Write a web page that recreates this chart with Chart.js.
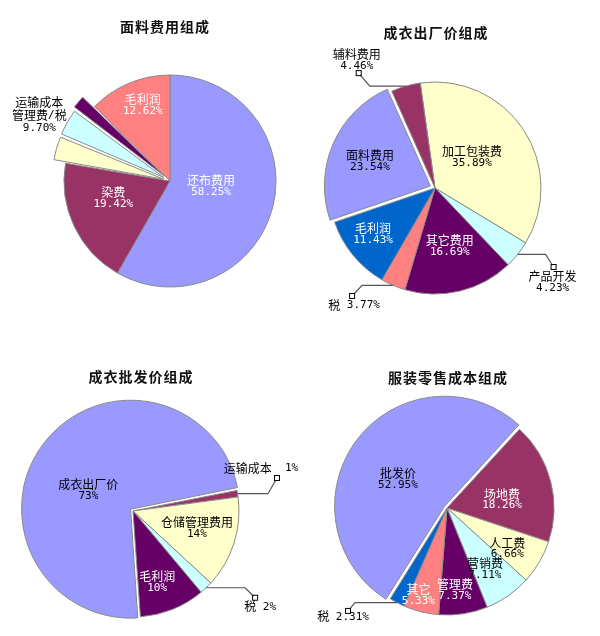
<!DOCTYPE html>
<html lang="zh">
<head>
<meta charset="UTF-8">
<title>服装成本组成</title>
<script src="https://cdn.jsdelivr.net/npm/chart.js"></script>
<style>
  body { margin: 0; background: #fff; }
  .grid {
    display: grid;
    grid-template-columns: 300px 300px;
    grid-template-rows: 318px 318px;
    width: 600px;
    height: 636px;
  }
  canvas { display: block; }
</style>
</head>
<body>
<div class="grid">
  <canvas id="c1" width="300" height="318"></canvas>
  <canvas id="c2" width="300" height="318"></canvas>
  <canvas id="c3" width="300" height="318"></canvas>
  <canvas id="c4" width="300" height="318"></canvas>
</div>
<script>
  // 面料费用组成 (运输成本/管理费/税 together 9.70%)
  const fabricLabels = ['还布费用', '染费', '运输成本', '管理费', '税', '毛利润'];
  const fabricValues = [58.25, 19.42, 3.6, 4.0, 2.1, 12.62];

  // 成衣出厂价组成
  const factoryLabels = ['加工包装费', '产品开发', '其它费用', '税', '毛利润', '面料费用', '辅料费用'];
  const factoryValues = [35.89, 4.23, 16.69, 3.77, 11.43, 23.54, 4.46];

  // 成衣批发价组成
  const wholesaleLabels = ['成衣出厂价', '运输成本', '仓储管理费用', '税', '毛利润'];
  const wholesaleValues = [73, 1, 14, 2, 10];

  // 服装零售成本组成
  const retailLabels = ['批发价', '场地费', '人工费', '营销费', '管理费', '其它', '税'];
  const retailValues = [52.95, 18.26, 6.66, 7.11, 7.37, 5.33, 2.31];

  const LAV = '#9999FF', PLUM = '#993366', CREAM = '#FFFFCC', AQUA = '#CCFFFF',
        GRAPE = '#660066', SALMON = '#FF8080', OCEAN = '#0066CC';

  const FONT_CJK = '"Noto Sans CJK SC", sans-serif';
  const FONT_NUM = '"DejaVu Sans Mono", monospace';
  const LINE_H = 11.5;

  function pct(v, d) { return v.toFixed(d) + '%'; }

  // one line of text, CJK runs and latin runs in different fonts
  function drawLine(ctx, text, cx, cy) {
    const runs = [];
    for (const ch of text) {
      const cjk = ch.charCodeAt(0) > 255;
      const last = runs[runs.length - 1];
      if (last && last.cjk === cjk) last.t += ch;
      else runs.push({ t: ch, cjk });
    }
    let total = 0;
    runs.forEach(r => {
      ctx.font = r.cjk ? '12px ' + FONT_CJK : '11px ' + FONT_NUM;
      r.w = ctx.measureText(r.t).width;
      total += r.w;
    });
    let x = cx - total / 2;
    ctx.textAlign = 'left';
    ctx.textBaseline = 'middle';
    runs.forEach(r => {
      ctx.font = r.cjk ? '12px ' + FONT_CJK : '11px ' + FONT_NUM;
      ctx.fillText(r.t, x, cy);
      x += r.w;
    });
  }

  function drawBlock(ctx, lines, cx, cy, color) {
    ctx.fillStyle = color;
    const top = cy - (lines.length - 1) * LINE_H / 2;
    lines.forEach((t, i) => drawLine(ctx, t, cx, top + i * LINE_H));
  }

  const sliceLabels = {
    id: 'sliceLabels',
    afterDatasetsDraw(chart, args, opts) {
      const cfg = opts.cfg;
      const ctx = chart.ctx;
      const meta = chart.getDatasetMeta(0);
      const values = chart.data.datasets[0].data;
      const names = chart.data.labels;

      // same shift the arc element applies for its offset
      const geo = i => {
        const a = meta.data[i];
        const p = a.getProps(['x', 'y', 'startAngle', 'endAngle', 'outerRadius']);
        const mid = (p.startAngle + p.endAngle) / 2;
        const off = (a.options.offset || 0) / 4;
        const fix = 1 - Math.sin(Math.min(Math.PI, p.endAngle - p.startAngle));
        const t = off * (1 + fix);
        return { cx: p.x + Math.cos(mid) * t, cy: p.y + Math.sin(mid) * t, r: p.outerRadius, mid };
      };

      ctx.save();
      cfg.tags.forEach((tag, i) => {
        if (!tag) return;
        const g = geo(i);
        const txt = pct(values[i], cfg.decimals);
        if (tag.frac) {
          const ang = g.mid + tag.turn * Math.PI / 180;
          const x = g.cx + Math.cos(ang) * g.r * tag.frac;
          const y = g.cy + Math.sin(ang) * g.r * tag.frac;
          drawBlock(ctx, [names[i], txt], x, y, tag.color);
        } else if (tag.lead) {
          const ex = g.cx + Math.cos(g.mid) * g.r;
          const ey = g.cy + Math.sin(g.mid) * g.r;
          const mx = ex + tag.lead[0], my = ey + tag.lead[1];
          ctx.strokeStyle = '#555';
          ctx.lineWidth = 1.2;
          ctx.beginPath();
          ctx.moveTo(ex, ey);
          ctx.lineTo(mx + tag.lead[2], ey);
          ctx.lineTo(mx, my);
          ctx.stroke();
          ctx.fillStyle = '#fff';
          ctx.fillRect(mx - 2, my - 2, 4, 4);
          ctx.strokeStyle = '#000';
          ctx.lineWidth = 1;
          ctx.strokeRect(mx - 2.5, my - 2.5, 5, 5);
          const lines = tag.one !== undefined ? [names[i] + tag.one + txt] : [names[i], txt];
          drawBlock(ctx, lines, mx + tag.text[0], my + tag.text[1], '#000');
        }
      });

      if (cfg.group) {
        const gr = cfg.group;
        const g = geo(gr.via);
        const sum = gr.idx.reduce((s, k) => s + values[k], 0);
        const ang = g.mid + gr.turn * Math.PI / 180;
        const x = g.cx + Math.cos(ang) * g.r * gr.frac;
        const y = g.cy + Math.sin(ang) * g.r * gr.frac;
        const lines = [names[gr.idx[0]], gr.idx.slice(1).map(k => names[k]).join('/'), pct(sum, cfg.decimals)];
        ctx.fillStyle = '#000';
        const top = y - LINE_H * 1.1;
        lines.forEach((t, k) => drawLine(ctx, t, x, top + k * LINE_H * 1.1));
      }

      ctx.font = 'bold 14px ' + FONT_CJK;
      ctx.letterSpacing = '1px';
      ctx.fillStyle = '#111';
      ctx.textAlign = 'center';
      ctx.textBaseline = 'middle';
      ctx.fillText(cfg.title, cfg.titleX, cfg.titleY);
      ctx.restore();
    }
  };

  const charts = [
    {
      id: 'c1', title: '面料费用组成', titleX: 165, titleY: 27,
      labels: fabricLabels, values: fabricValues, decimals: 2,
      colors: [LAV, PLUM, CREAM, AQUA, GRAPE, SALMON],
      offsets: [0, 0, 27, 28, 32, 0],
      rotation: 0, radius: 106, padding: { left: 50, right: 10, top: 54, bottom: 10 },
      tags: [
        { frac: 0.39, turn: -8, color: '#fff' },
        { frac: 0.56, turn: 8, color: '#fff' },
        null, null, null,
        { frac: 0.76, turn: 3, color: '#fff' }
      ],
      group: { idx: [2, 3, 4], via: 3, frac: 1.265, turn: -3.3 }
    },
    {
      id: 'c2', title: '成衣出厂价组成', titleX: 136, titleY: 33,
      labels: factoryLabels, values: factoryValues, decimals: 2,
      colors: [CREAM, AQUA, GRAPE, SALMON, OCEAN, LAV, PLUM],
      offsets: [0, 0, 0, 0, 0, 20, 0],
      rotation: 352, radius: 106, padding: { left: 10, right: 40, top: 68, bottom: 10 },
      tags: [
        { frac: 0.455, turn: -6.6, color: '#000' },
        { lead: [36, 12.6, -8], text: [-1, 15.5] },
        { frac: 0.57, turn: -0.7, color: '#fff' },
        { lead: [-41, 10.6, 10], text: [2, 9], one: ' ' },
        { frac: 0.73, turn: 2.5, color: '#fff' },
        { frac: 0.615, turn: -1.5, color: '#000' },
        { lead: [-47, -13, 11], text: [-2, -12.5] }
      ]
    },
    {
      id: 'c3', title: '成衣批发价组成', titleX: 141, titleY: 59,
      labels: wholesaleLabels, values: wholesaleValues, decimals: 0,
      colors: [LAV, PLUM, CREAM, AQUA, GRAPE],
      offsets: [12, 0, 0, 0, 0],
      rotation: 176, radius: 106, padding: { left: 10, right: 44, top: 78, bottom: 10 },
      tags: [
        { frac: 0.41, turn: -14, color: '#000' },
        { lead: [39.4, -15.7, -9], text: [-16, -10], one: '  ' },
        { frac: 0.625, turn: -2.3, color: '#000' },
        { lead: [49, 10, -10], text: [5, 9], one: ' ' },
        { frac: 0.71, turn: 3.3, color: '#fff' }
      ]
    },
    {
      id: 'c4', title: '服装零售成本组成', titleX: 148, titleY: 60,
      labels: retailLabels, values: retailValues, decimals: 2,
      colors: [LAV, PLUM, CREAM, AQUA, GRAPE, SALMON, OCEAN],
      offsets: [12, 0, 0, 0, 0, 0, 0],
      rotation: 212, radius: 107, padding: { left: 10, right: 16, top: 72, bottom: 10 },
      tags: [
        { frac: 0.475, turn: -8, color: '#000' },
        { frac: 0.52, turn: 6, color: '#fff' },
        { frac: 0.68, turn: 3.7, color: '#000' },
        { frac: 0.675, turn: 3.2, color: '#000' },
        { frac: 0.775, turn: 3.3, color: '#fff' },
        { frac: 0.86, turn: 4, color: '#fff' },
        { lead: [-49, 8.3, 7], text: [-5, 6], one: ' ' }
      ]
    }
  ];

  charts.forEach(cfg => {
    new Chart(document.getElementById(cfg.id), {
      type: 'pie',
      data: {
        labels: cfg.labels,
        datasets: [{
          data: cfg.values,
          backgroundColor: cfg.colors,
          borderColor: '#8a8a8a',
          borderWidth: 1,
          offset: cfg.offsets,
          clip: false
        }]
      },
      options: {
        responsive: false,
        animation: false,
        events: [],
        rotation: cfg.rotation,
        radius: cfg.radius,
        layout: { padding: cfg.padding },
        plugins: {
          legend: { display: false },
          tooltip: { enabled: false },
          title: { display: false },
          sliceLabels: { cfg }
        }
      },
      plugins: [sliceLabels]
    });
  });
</script>
</body>
</html>
